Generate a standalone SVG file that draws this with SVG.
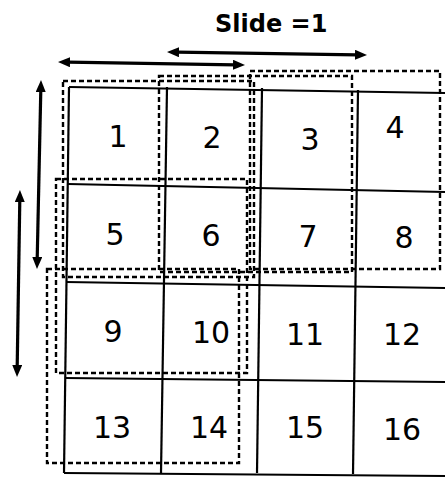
<svg xmlns="http://www.w3.org/2000/svg" width="445" height="478" viewBox="0 0 445 478">
<style>
.grid line{stroke:#000;stroke-width:2.2;fill:none}
.win{fill:none;stroke:#000;stroke-width:2.4;stroke-dasharray:5 3}
.arr{stroke:#000;stroke-width:3.2;fill:none;marker-start:url(#ah);marker-end:url(#ah)}
.num{font-family:"DejaVu Sans","Verdana",sans-serif;font-size:30px;fill:#000;text-anchor:middle}
.title{font-family:"DejaVu Sans","Verdana",sans-serif;font-size:24px;font-weight:bold;fill:#000}
</style>
<defs>
<marker id="ah" viewBox="0 0 12 10" markerWidth="12" markerHeight="10" refX="2" refY="5" orient="auto-start-reverse" markerUnits="userSpaceOnUse">
<path d="M0,0 L12,5 L0,10 z" fill="#000"/>
</marker>
</defs>
<rect width="445" height="478" fill="#fff"/>
<text id="title" class="title" x="215" y="32">Slide =1</text>
<g id="grid" class="grid">
<line x1="69" y1="87" x2="445" y2="93"/>
<line x1="68" y1="184" x2="445" y2="192"/>
<line x1="66" y1="282" x2="445" y2="288"/>
<line x1="65" y1="378" x2="445" y2="382"/>
<line x1="64" y1="473" x2="445" y2="476"/>
<line x1="69" y1="87" x2="64" y2="473"/>
<line x1="167" y1="87" x2="161" y2="473"/>
<line x1="262" y1="88" x2="257" y2="473"/>
<line x1="358" y1="90" x2="353" y2="474"/>
</g>
<g id="cell1"><text class="num" x="118" y="147">1</text></g>
<g id="cell2"><text class="num" x="212" y="148">2</text></g>
<g id="cell3"><text class="num" x="310" y="150">3</text></g>
<g id="cell4"><text class="num" x="395" y="138">4</text></g>
<g id="cell5"><text class="num" x="115" y="245">5</text></g>
<g id="cell6"><text class="num" x="211" y="246">6</text></g>
<g id="cell7"><text class="num" x="308" y="247">7</text></g>
<g id="cell8"><text class="num" x="404" y="248">8</text></g>
<g id="cell9"><text class="num" x="113" y="342">9</text></g>
<g id="cell10"><text class="num" x="211" y="343">10</text></g>
<g id="cell11"><text class="num" x="305" y="345">11</text></g>
<g id="cell12"><text class="num" x="402" y="345">12</text></g>
<g id="cell13"><text class="num" x="112" y="438">13</text></g>
<g id="cell14"><text class="num" x="209" y="438">14</text></g>
<g id="cell15"><text class="num" x="305" y="438">15</text></g>
<g id="cell16"><text class="num" x="402" y="440">16</text></g>
<g id="windows">
<rect id="win1" class="win" x="63" y="81" width="191" height="196"/>
<rect id="win2" class="win" x="159" y="76" width="193" height="196"/>
<rect id="win3" class="win" x="250" y="71" width="190" height="198"/>
<rect id="win4" class="win" x="56" y="179" width="191" height="194"/>
<rect id="win5" class="win" x="47" y="269" width="192" height="194"/>
</g>
<g id="connectors">
<line class="arr" x1="68" y1="62.2" x2="235" y2="64.8"/>
<line class="arr" x1="177" y1="52.2" x2="357" y2="54.8"/>
<line class="arr" x1="40.8" y1="90" x2="37.2" y2="259"/>
<line class="arr" x1="19.8" y1="200" x2="17.2" y2="367"/>
</g>
</svg>
